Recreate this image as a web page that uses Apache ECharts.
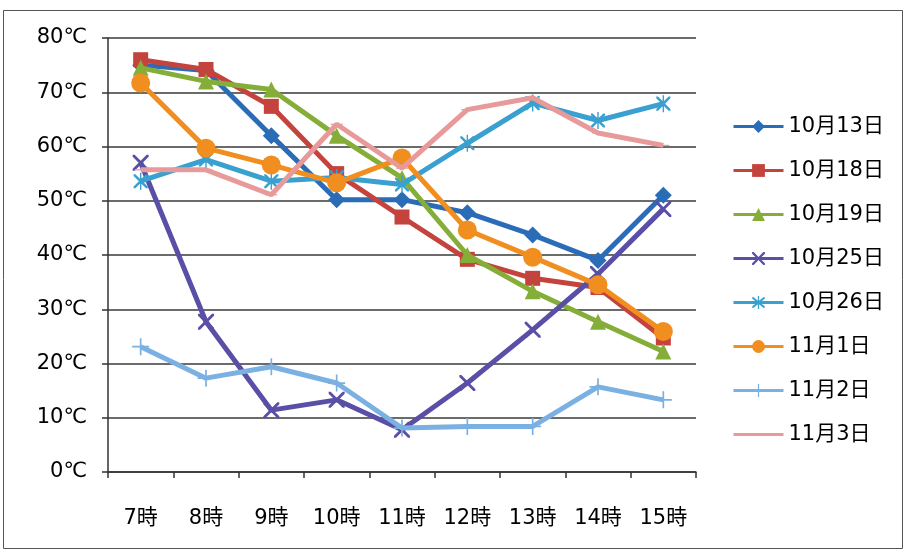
<!DOCTYPE html>
<html>
<head>
<meta charset="utf-8">
<script src="https://cdn.jsdelivr.net/npm/echarts@6/dist/echarts.min.js"></script>
<style>
html,body{margin:0;padding:0;background:#fff;}
#c{width:906px;height:553px;}
</style>
</head>
<body>
<div id="c"></div>
<script>
const categories = ['7時','8時','9時','10時','11時','12時','13時','14時','15時'];
const seriesNames = ['10月13日','10月18日','10月19日','10月25日','10月26日','11月1日','11月2日','11月3日'];
const d1013 = [75, 74, 62, 50.2, 50.2, 47.8, 43.7, 39, 51];
const d1018 = [76, 74.2, 67.4, 55, 47, 39.2, 35.7, 34, 24.7];
const d1019 = [74.5, 72, 70.5, 62, 54.2, 40, 33.3, 27.7, 22.2];
const d1025 = [57, 27.7, 11.4, 13.3, 7.8, 16.4, 26.2, 36.5, 48.5];
const d1026 = [53.6, 57.6, 53.6, 54.3, 53, 60.6, 68, 64.8, 67.9];
const d1101 = [71.7, 59.7, 56.6, 53.3, 57.9, 44.6, 39.6, 34.5, 25.9];
const d1102 = [23.1, 17.3, 19.4, 16.4, 8.1, 8.4, 8.4, 15.7, 13.3];
const d1103 = [55.7, 55.7, 51.1, 64.1, 56, 66.8, 69, 62.5, 60.2];
const yTicks = [0, 10, 20, 30, 40, 50, 60, 70, 80];

const dataSets = [d1013, d1018, d1019, d1025, d1026, d1101, d1102, d1103];
const colors = ['#2b6cb6', '#c4433d', '#85ae38', '#5a4fa6', '#39a0cf', '#f08e1f', '#7bb0e2', '#e89a9a'];
const xPath = 'path://M0,0 L2.5,0 L10,7.5 L17.5,0 L20,0 L20,2.5 L12.5,10 L20,17.5 L20,20 L17.5,20 L10,12.5 L2.5,20 L0,20 L0,17.5 L7.5,10 L0,2.5 Z';
const starPath = 'path://M0,0 L2.5,0 L10,7.5 L17.5,0 L20,0 L20,2.5 L12.5,10 L20,17.5 L20,20 L17.5,20 L10,12.5 L2.5,20 L0,20 L0,17.5 L7.5,10 L0,2.5 Z M9,-2 L11,-2 L11,22 L9,22 Z';
const plusPath = 'path://M9,0 L11,0 L11,9 L20,9 L20,11 L11,11 L11,20 L9,20 L9,11 L0,11 L0,9 L9,9 Z';
const dashPath = 'path://M0,0 L20,0 L20,6 L0,6 Z';
const symbols = ['diamond', 'rect', 'triangle', xPath, starPath, 'circle', plusPath, dashPath];
const sizes = [17, 15, 16, 16, 17, 19, 17, [12, 4]];

const font = "'DejaVu Sans', 'Noto Sans CJK JP', sans-serif";

const legendData = seriesNames.map(function (n, i) {
  return i === 7 ? {name: n, itemStyle: {opacity: 0}} : {name: n};
});

const chart = echarts.init(document.getElementById('c'), null, {renderer: 'canvas'});
chart.setOption({
  backgroundColor: '#fff',
  animation: false,
  graphic: [{
    type: 'rect',
    shape: {x: 3.5, y: 10.5, width: 899, height: 538},
    style: {fill: 'none', stroke: '#555', lineWidth: 1}
  }],
  grid: {left: 108, right: 210, top: 38, bottom: 81},
  legend: {
    orient: 'vertical',
    left: 727,
    top: 111,
    itemWidth: 50,
    itemHeight: 16,
    itemGap: 23,
    lineStyle: {width: 3},
    textStyle: {fontSize: 21, fontFamily: font, color: '#000'},
    data: legendData
  },
  xAxis: {
    type: 'category',
    data: categories,
    boundaryGap: true,
    axisLine: {lineStyle: {color: '#333', width: 1.5}},
    axisTick: {show: true, length: 6, lineStyle: {color: '#333', width: 1.5}},
    axisLabel: {fontSize: 21, fontFamily: font, color: '#000', margin: 36}
  },
  yAxis: {
    type: 'value',
    min: 0, max: 80, interval: 10,
    axisLine: {show: true, lineStyle: {color: '#333', width: 1.5}},
    axisTick: {show: true, length: 6, lineStyle: {color: '#333', width: 1.5}},
    axisLabel: {fontSize: 21, fontFamily: font, color: '#000', margin: 21,
      formatter: function (v) { return yTicks.indexOf(v) >= 0 ? v + '℃' : ''; }},
    splitLine: {lineStyle: {color: '#3a3a3a', width: 1.5}}
  },
  series: seriesNames.map(function (name, i) {
    return {
      name: name,
      type: 'line',
      data: dataSets[i],
      symbol: symbols[i],
      symbolSize: sizes[i],
      symbolKeepAspect: true,
      showAllSymbol: true,
      lineStyle: {width: 5, color: colors[i]},
      itemStyle: {color: colors[i], borderWidth: 0},
      z: 2 + i
    };
  })
});
</script>
</body>
</html>
